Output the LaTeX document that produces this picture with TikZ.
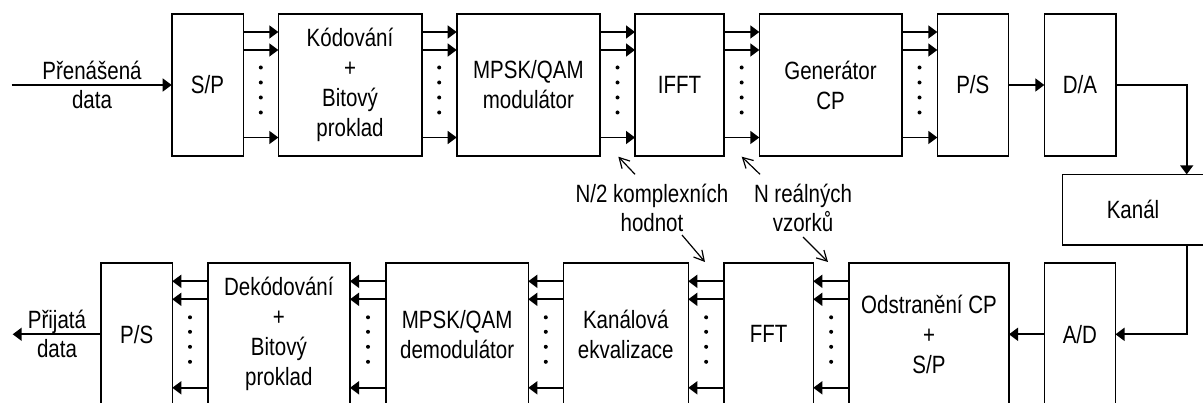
\documentclass[tikz,border=0pt]{standalone}
\usepackage{fontspec}
\setmainfont{Liberation Sans}[FakeStretch=0.82]
\usetikzlibrary{arrows.meta,calc}

\tikzset{
  blk/.style={draw, line width=1.6pt, outer sep=0pt, inner sep=2pt, align=center,
    minimum height=142pt, font=\fontsize{25}{30}\selectfont},
  arr/.style={line width=1.6pt, -{Triangle[length=9pt,width=13pt]}},
  ptr/.style={line width=1.2pt, -{Straight Barb[length=10pt,width=11pt]}},
  lbl/.style={align=center, inner sep=0pt, font=\fontsize{25}{29}\selectfont},
  dotc/.style={fill=black},
}

\newcommand\mybusR[2]{%
  \foreach \yy in {18,36,123.5}
    \draw[arr] ([yshift=-\yy pt]#1.north east) -- ([yshift=-\yy pt]#2.north west);
  \foreach \yy in {53.5,68.5,83.5,98.5}
    \fill[dotc] ($(#1.north east)!.5!(#2.north west)$) ++(0,\yy) circle (2);
}
\newcommand\mybusL[2]{%
  \foreach \yy in {18,36,124.5}
    \draw[arr] ([yshift=-\yy pt]#1.north west) -- ([yshift=-\yy pt]#2.north east);
  \foreach \yy in {54,68.5,83.5,98.5}
    \fill[dotc] ($(#1.north west)!.5!(#2.north east)$) ++(0,\yy) circle (2);
}

\begin{document}
\begin{tikzpicture}[x=1pt,y=-1pt]
\path[use as bounding box, clip] (0,0) rectangle (1203,403);
\fill[white] (0,0) rectangle (1203,403);

% top row
\node[blk, minimum width=71.6pt]  (sp)   at (207.5,85)  {S/P};
\node[blk, minimum width=143.4pt] (kod)  at (350,85)    {Kódování\\+\\Bitový\\proklad};
\node[blk, minimum width=143.3pt] (mod)  at (528.35,85) {MPSK/QAM\\modulátor};
\node[blk, minimum width=89pt]    (ifft) at (679.5,85)  {IFFT};
\node[blk, minimum width=142.4pt] (gen)  at (830.5,85)  {Generátor\\CP};
\node[blk, minimum width=71pt]    (ps)   at (972.8,85)  {P/S};
\node[blk, minimum width=71.4pt]  (da)   at (1080,85)   {D/A};

% channel
\node[blk, minimum width=141.4pt, minimum height=70.7pt] (kanal) at (1133,209.7) {Kanál};

% bottom row
\node[blk, minimum width=71.3pt]  (ps2)   at (136.65,334.3) {P/S};
\node[blk, minimum width=142.3pt] (dek)   at (278.85,334.3) {Dekódování\\+\\Bitový\\proklad};
\node[blk, minimum width=142.3pt] (demod) at (457.15,334.3) {MPSK/QAM\\demodulátor};
\node[blk, minimum width=125pt]   (ekv)   at (625.8,334.3)  {Kanálová\\ekvalizace};
\node[blk, minimum width=89.3pt]  (fft)   at (768.65,334.3) {FFT};
\node[blk, minimum width=160pt]   (odst)  at (929,334.3)    {Odstranění CP\\+\\S/P};
\node[blk, minimum width=71.2pt]  (ad)    at (1079.9,334.3) {A/D};

% input / output
\coordinate (inS) at (11.7,85);
\coordinate (outE) at (12.7,334.3);
\draw[arr] (inS) -- (sp.west);
\node[lbl] (inl) at (92,85) {Přenášená\\data};
\draw[arr] (ps2.west) -- (outE);
\node[lbl] (outl) at (57,333.5) {Přijatá\\data};

% buses
\mybusR{sp}{kod}
\mybusR{kod}{mod}
\mybusR{mod}{ifft}
\mybusR{ifft}{gen}
\mybusR{gen}{ps}
\draw[arr] (ps.east) -- (da.west);
\draw[arr] (da.east) -| ([xshift=53.7pt]kanal.north);
\draw[arr] ([xshift=53.7pt]kanal.south) |- (ad.east);
\draw[arr] (ad.west) -- (odst.east);
\mybusL{odst}{fft}
\mybusL{fft}{ekv}
\mybusL{ekv}{demod}
\mybusL{demod}{dek}
\mybusL{dek}{ps2}

% annotations
\node[lbl] (nk) at (652,208.4) {N/2 komplexních\\hodnot};
\node[lbl] (nr) at (803,208.4) {N reálných\\vzorků};
\coordinate (a1t) at (635,174.3);  \coordinate (a1h) at (618.3,156.7);
\coordinate (a2t) at (760,174.3);  \coordinate (a2h) at (741.7,156.7);
\coordinate (a3t) at (682,235);    \coordinate (a3h) at (705,262);
\coordinate (a4t) at (803,237);    \coordinate (a4h) at (828,262);
\draw[ptr] (a1t) -- (a1h);
\draw[ptr] (a2t) -- (a2h);
\draw[ptr] (a3t) -- (a3h);
\draw[ptr] (a4t) -- (a4h);
\end{tikzpicture}
\end{document}
